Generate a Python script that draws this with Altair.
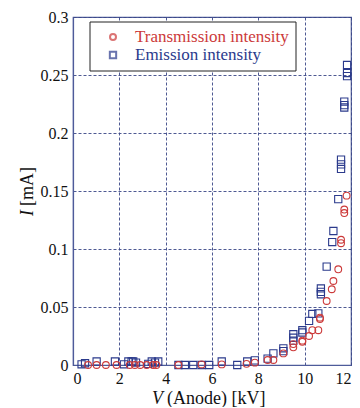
import altair as alt
import pandas as pd

# Emission intensity (blue squares)
emission_v = [0.37, 0.52, 1.02, 1.81, 2.2, 2.39, 2.53, 2.6, 2.72, 3.25, 3.4, 3.54, 3.68,
              4.55, 4.83, 5.19, 5.55, 5.88, 6.42, 7.09, 7.52, 7.85, 8.4, 8.65, 9.08, 9.08,
              9.51, 9.51, 9.51, 9.9, 9.9, 10.19, 10.33, 10.59, 10.70, 10.70, 10.70, 10.95,
              11.19, 11.24, 11.45, 11.57, 11.57, 11.57, 11.71, 11.71, 11.71, 11.83, 11.83, 11.83]
emission_i = [0.0006, 0.0015, 0.003, 0.003, 0.0006, 0.003, 0.003, 0.003, 0.002, 0.001, 0.003, 0.002, 0.003,
              0.0, 0.0, 0.0, 0.0, 0.0, 0.003, 0.0, 0.003, 0.004, 0.0055, 0.010, 0.0144, 0.012,
              0.0265, 0.0235, 0.021, 0.030, 0.028, 0.038, 0.044, 0.0445, 0.066, 0.063, 0.061, 0.0848,
              0.106, 0.1155, 0.143, 0.177, 0.173, 0.169, 0.227, 0.224, 0.222, 0.2586, 0.2517, 0.249]

# Transmission intensity (red circles)
transmission_v = [0.65, 1.02, 1.42, 1.88, 2.45, 2.67, 2.9, 3.18, 3.46, 3.6, 4.55, 5.55, 6.42,
                  7.49, 7.85, 8.4, 8.65, 9.08, 9.51, 9.51, 9.9, 9.9, 10.19, 10.33, 10.59,
                  10.66, 10.66, 10.95, 11.17, 11.24, 11.45, 11.57, 11.57, 11.71, 11.71, 11.81]
transmission_i = [0.0, 0.0, 0.0, 0.0, 0.0, 0.0, 0.0, 0.0, 0.0, 0.0, 0.0, 0.0005, 0.0005,
                  0.001, 0.002, 0.0043, 0.0043, 0.010, 0.018, 0.0152, 0.021, 0.020, 0.025, 0.030, 0.030,
                  0.0408, 0.0397, 0.0552, 0.0653, 0.0724, 0.0825, 0.108, 0.105, 0.134, 0.131, 0.146]

x_ticks = [0, 2, 4, 6, 8, 10, 12]
y_ticks = [0, 0.05, 0.1, 0.15, 0.2, 0.25, 0.3]

RED = "#cc3a3a"
BLUE = "#2b3a8c"
FRAME = "#4e5b9a"
GRID = "#3a4686"
FONT = "Liberation Serif"

em = pd.DataFrame({"v": emission_v, "i": emission_i})
tr = pd.DataFrame({"v": transmission_v, "i": transmission_i})

xs = alt.Scale(domain=[0, 12], nice=False, zero=False)
ys = alt.Scale(domain=[0, 0.3], nice=False)

xax = alt.Axis(values=x_ticks, title=None, grid=True, format="~g", ticks=False,
               labelPadding=5, labelFont=FONT, labelFontSize=16, labelColor="#111111",
               domainColor=FRAME, domainWidth=1.2, gridColor=GRID, gridDash=[3, 2],
               gridWidth=0.9, gridOpacity=1)
yax = alt.Axis(values=y_ticks, title=None, grid=True, format="~g", ticks=False,
               labelPadding=5, labelFont=FONT, labelFontSize=16, labelColor="#111111",
               domainColor=FRAME, domainWidth=1.2, gridColor=GRID, gridDash=[3, 2],
               gridWidth=0.9, gridOpacity=1)

pts_em = alt.Chart(em).mark_point(shape="square", filled=False, color=BLUE, size=52,
                                  strokeWidth=1.1, opacity=1, clip=False).encode(
    x=alt.X("v:Q", scale=xs, axis=xax),
    y=alt.Y("i:Q", scale=ys, axis=yax),
)
pts_tr = alt.Chart(tr).mark_point(shape="circle", filled=False, color=RED, size=46,
                                  strokeWidth=1.1, opacity=1, clip=False).encode(
    x=alt.X("v:Q", scale=xs),
    y=alt.Y("i:Q", scale=ys),
)

one = pd.DataFrame({"a": [0]})

legend_box = alt.Chart(one).mark_rect(fill="white", stroke="#222222", strokeWidth=1).encode(
    x=alt.value(17), x2=alt.value(223), y=alt.value(5), y2=alt.value(54))
leg_c = alt.Chart(one).mark_point(shape="circle", filled=False, color=RED, size=36).encode(
    x=alt.value(40), y=alt.value(20))
leg_s = alt.Chart(one).mark_point(shape="square", filled=False, color=BLUE, size=40).encode(
    x=alt.value(40), y=alt.value(38))
leg_t1 = alt.Chart(one).mark_text(text="Transmission intensity", font=FONT, fontSize=17,
                                  color=RED, align="left", baseline="middle").encode(
    x=alt.value(62), y=alt.value(20))
leg_t2 = alt.Chart(one).mark_text(text="Emission intensity", font=FONT, fontSize=17,
                                  color=BLUE, align="left", baseline="middle").encode(
    x=alt.value(62), y=alt.value(38))

xt1 = alt.Chart(one).mark_text(text="V", font=FONT, fontSize=18, fontStyle="italic",
                               color="#111111", align="left", baseline="middle").encode(
    x=alt.value(79), y=alt.value(382))
xt2 = alt.Chart(one).mark_text(text="(Anode) [kV]", font=FONT, fontSize=18,
                               color="#111111", align="left", baseline="middle").encode(
    x=alt.value(94), y=alt.value(382))
yt1 = alt.Chart(one).mark_text(text="I", font=FONT, fontSize=18, fontStyle="italic", angle=270,
                               color="#111111", align="left", baseline="middle").encode(
    x=alt.value(-45), y=alt.value(199))
yt2 = alt.Chart(one).mark_text(text="[mA]", font=FONT, fontSize=18, angle=270,
                               color="#111111", align="left", baseline="middle").encode(
    x=alt.value(-45), y=alt.value(189))

chart = alt.layer(
    pts_em, pts_tr, legend_box, leg_c, leg_s, leg_t1, leg_t2, xt1, xt2, yt1, yt2
).properties(
    width=278, height=348,
    autosize=alt.AutoSizeParams(type="none"),
    padding={"left": 65, "top": 9, "right": 1, "bottom": 42},
    background="white",
).configure_view(
    stroke=FRAME, strokeWidth=1.2
)

chart.save("out.html", embed_options={"renderer": "svg", "actions": False})
